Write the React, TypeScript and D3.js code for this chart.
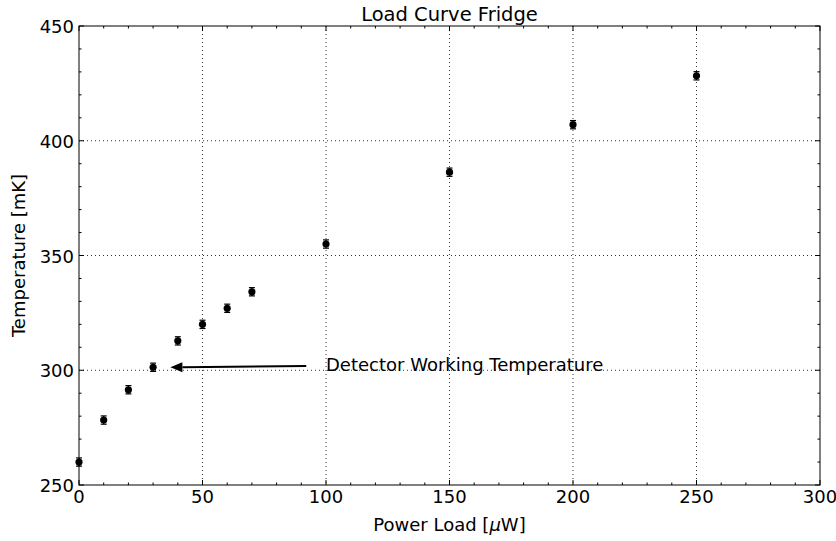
import React from "react";
import * as d3 from "d3";

const powerLoad = [0, 10, 20, 30, 40, 50, 60, 70, 100, 150, 200, 250];
const temperature = [260, 278.3, 291.5, 301.3, 312.8, 320, 327, 334.2, 355, 386.3, 407, 428.3];
const tempError = [1.8, 1.8, 1.8, 1.8, 1.8, 1.8, 1.8, 1.8, 1.8, 1.8, 1.8, 1.8];
const xTicks = [0, 50, 100, 150, 200, 250, 300];
const yTicks = [250, 300, 350, 400, 450];
const chartTitle = "Load Curve Fridge";
const annotationText = "Detector Working Temperature";
const arrowFrom = { x: 92, y: 301.8 };
const arrowTo = { x: 37, y: 301.3 };

export default function App() {
  const W = 836, H = 541;
  const left = 79, right = 820, top = 26, bottom = 485;
  const x = d3.scaleLinear().domain([0, 300]).range([left, right]);
  const y = d3.scaleLinear().domain([250, 450]).range([bottom, top]);
  const xMinor = d3.range(0, 301, 10).filter((v) => v % 50 !== 0);
  const yMinor = d3.range(250, 451, 10).filter((v) => v % 50 !== 0);
  const font = "DejaVu Sans, sans-serif";
  const major = 5, minor = 2.5;
  const fs = 18;

  const ax1 = x(arrowFrom.x), ay1 = y(arrowFrom.y);
  const ax2 = x(arrowTo.x), ay2 = y(arrowTo.y);
  const ang = Math.atan2(ay2 - ay1, ax2 - ax1);
  const hl = 12, hw = 5;
  const bx = ax2 - hl * Math.cos(ang), by = ay2 - hl * Math.sin(ang);
  const px = -Math.sin(ang) * hw, py = Math.cos(ang) * hw;

  return (
    <svg width={W} height={H} style={{ position: "absolute", left: 0, top: 0, background: "#fff" }} fontFamily={font}>
      <rect x={0} y={0} width={W} height={H} fill="#fff" />
      {xTicks.slice(1, -1).map((t) => (
        <line key={"gx" + t} x1={x(t)} x2={x(t)} y1={top} y2={bottom} stroke="#000" strokeWidth={0.8} strokeDasharray="1,3" />
      ))}
      {yTicks.slice(1, -1).map((t) => (
        <line key={"gy" + t} x1={left} x2={right} y1={y(t)} y2={y(t)} stroke="#000" strokeWidth={0.8} strokeDasharray="1,3" />
      ))}
      {xTicks.map((t) => (
        <g key={"xt" + t}>
          <line x1={x(t)} x2={x(t)} y1={bottom} y2={bottom - major} stroke="#000" />
          <line x1={x(t)} x2={x(t)} y1={top} y2={top + major} stroke="#000" />
          <text x={x(t)} y={503} fontSize={fs} textAnchor="middle">{t}</text>
        </g>
      ))}
      {xMinor.map((t) => (
        <g key={"xm" + t}>
          <line x1={x(t)} x2={x(t)} y1={bottom} y2={bottom - minor} stroke="#000" />
          <line x1={x(t)} x2={x(t)} y1={top} y2={top + minor} stroke="#000" />
        </g>
      ))}
      {yTicks.map((t) => (
        <g key={"yt" + t}>
          <line x1={left} x2={left + major} y1={y(t)} y2={y(t)} stroke="#000" />
          <line x1={right} x2={right - major} y1={y(t)} y2={y(t)} stroke="#000" />
          <text x={74} y={y(t) + 7} fontSize={fs} textAnchor="end">{t}</text>
        </g>
      ))}
      {yMinor.map((t) => (
        <g key={"ym" + t}>
          <line x1={left} x2={left + minor} y1={y(t)} y2={y(t)} stroke="#000" />
          <line x1={right} x2={right - minor} y1={y(t)} y2={y(t)} stroke="#000" />
        </g>
      ))}
      {powerLoad.map((p, i) => {
        const cx = x(p), cy = y(temperature[i]);
        const e1 = y(temperature[i] + tempError[i]), e2 = y(temperature[i] - tempError[i]);
        return (
          <g key={"pt" + i}>
            <line x1={cx} x2={cx} y1={e1} y2={e2} stroke="#000" strokeWidth={1.2} />
            <line x1={cx - 3} x2={cx + 3} y1={e1} y2={e1} stroke="#000" strokeWidth={1.2} />
            <line x1={cx - 3} x2={cx + 3} y1={e2} y2={e2} stroke="#000" strokeWidth={1.2} />
            <circle cx={cx} cy={cy} r={3.6} fill="#000" />
          </g>
        );
      })}
      <line x1={ax1} y1={ay1} x2={bx} y2={by} stroke="#000" strokeWidth={2} />
      <polygon points={`${ax2},${ay2} ${bx + px},${by + py} ${bx - px},${by - py}`} fill="#000" />
      <text x={x(100)} y={371} fontSize={fs}>{annotationText}</text>
      <rect x={left} y={top} width={right - left} height={bottom - top} fill="none" stroke="#000" strokeWidth={1} />
      <text x={(left + right) / 2} y={21} fontSize={19.5} textAnchor="middle">{chartTitle}</text>
      <text x={(left + right) / 2} y={531} fontSize={fs} textAnchor="middle">
        Power Load [<tspan fontStyle="italic">μ</tspan>W]
      </text>
      <text transform={`translate(25,${(top + bottom) / 2}) rotate(-90)`} fontSize={fs} textAnchor="middle">
        Temperature [mK]
      </text>
    </svg>
  );
}
